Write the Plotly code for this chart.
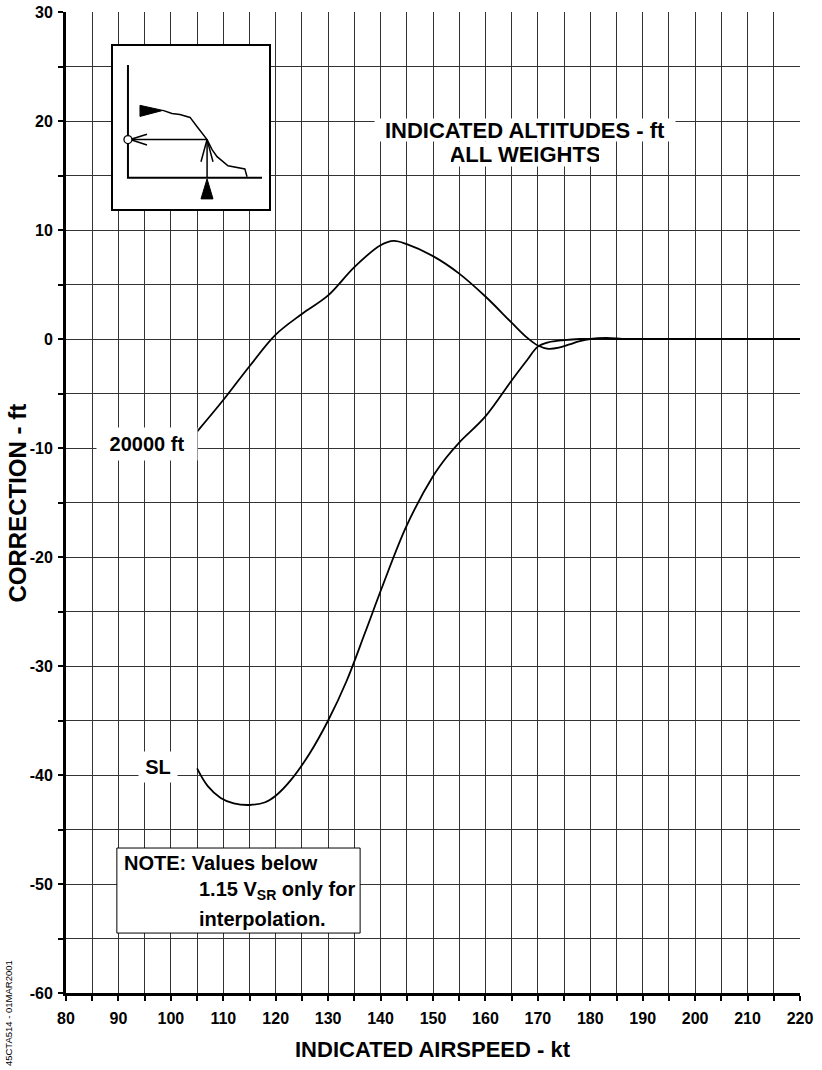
import plotly.graph_objects as go

# altitude position error correction curves
ias_20k = [105, 110, 115, 120, 125, 130, 135, 140, 142.5, 145, 150, 155, 160,
           165, 168, 170, 172, 174, 176, 178, 180, 183, 187, 195, 205, 220]
corr_20k = [-8.5, -5.6, -2.5, 0.4, 2.3, 4.0, 6.6, 8.6, 9.0, 8.7, 7.6, 6.0, 3.9,
            1.5, 0.1, -0.6, -0.9, -0.8, -0.5, -0.2, 0.0, 0.1, 0.0, 0.0, 0.0, 0.0]

ias_sl = [105, 107, 109.5, 112, 115, 118, 120, 123, 126.5, 130, 133.5, 137, 140.5, 145,
          150, 152.5, 155, 160, 165, 168, 170, 172, 175, 178, 185, 200, 220]
corr_sl = [-39.4, -41.0, -42.1, -42.6, -42.75, -42.5, -41.9, -40.4, -38.0, -35.0, -31.4, -27.0,
           -22.5, -17.1, -12.6, -10.9, -9.5, -7.1, -3.8, -1.9, -0.7, -0.3, -0.1, 0.0, 0.0,
           0.0, 0.0]

x_tickvals = [80, 90, 100, 110, 120, 130, 140, 150, 160, 170, 180, 190, 200, 210, 220]
x_ticktext = ['80', '90', '100', '110', '120', '130', '140', '150', '160', '170', '180',
              '190', '200', '210', '220']
y_tickvals = [-60, -50, -40, -30, -20, -10, 0, 10, 20, 30]
y_ticktext = ['-60', '-50', '-40', '-30', '-20', '-10', '0', '10', '20', '30']

# pictogram in the top-left box, in its own 0..100 units
icon_axes_x = [9.6, 9.6, 95.5]
icon_axes_y = [88.3, 19.1, 19.1]
icon_curve_x = [32, 37.8, 42.9, 49.4, 53.8, 60.3, 63.5, 66.7, 73.7, 82.7, 84.5, 85.9]
icon_curve_y = [60.5, 58.6, 58.0, 56.2, 50.6, 42.6, 36.4, 32.1, 26.5, 25.3, 24.6, 19.8]
icon_horiz_x = [11, 60.3]
icon_horiz_y = [42.6, 42.6]
icon_horiz_head_x = [21.8, 11, 21.8]
icon_horiz_head_y = [45.9, 42.6, 39.3]
icon_vert_x = [60.3, 60.3]
icon_vert_y = [19.1, 42.6]
icon_vert_head_x = [56.4, 60.3, 64.1]
icon_vert_head_y = [29, 42.6, 29]
icon_tri_left_x = [17.3, 17.3, 32, 17.3]
icon_tri_left_y = [63.6, 56.8, 60.5, 63.6]
icon_tri_up_x = [56.4, 64.1, 60.3, 56.4]
icon_tri_up_y = [6.2, 6.2, 18.5, 6.2]

FONT = "Liberation Sans, Arial, sans-serif"

fig = go.Figure()

fig.add_trace(go.Scatter(x=ias_20k, y=corr_20k, mode='lines', name='20000 ft',
                         line=dict(color='black', width=1.8, shape='spline', smoothing=1.0)))
fig.add_trace(go.Scatter(x=ias_sl, y=corr_sl, mode='lines', name='SL',
                         line=dict(color='black', width=1.8, shape='spline', smoothing=1.0)))

# inset pictogram
ic = dict(xaxis='x2', yaxis='y2', mode='lines', hoverinfo='skip')
fig.add_trace(go.Scatter(x=icon_axes_x, y=icon_axes_y, line=dict(color='black', width=2), **ic))
fig.add_trace(go.Scatter(x=icon_curve_x, y=icon_curve_y, line=dict(color='black', width=1.5), **ic))
fig.add_trace(go.Scatter(x=icon_horiz_x, y=icon_horiz_y, line=dict(color='black', width=1.5), **ic))
fig.add_trace(go.Scatter(x=icon_horiz_head_x, y=icon_horiz_head_y, line=dict(color='black', width=1.5), **ic))
fig.add_trace(go.Scatter(x=icon_vert_x, y=icon_vert_y, line=dict(color='black', width=1.5), **ic))
fig.add_trace(go.Scatter(x=icon_vert_head_x, y=icon_vert_head_y, line=dict(color='black', width=1.5), **ic))
fig.add_trace(go.Scatter(x=icon_tri_left_x, y=icon_tri_left_y, fill='toself', fillcolor='black',
                         line=dict(color='black', width=1), **ic))
fig.add_trace(go.Scatter(x=icon_tri_up_x, y=icon_tri_up_y, fill='toself', fillcolor='black',
                         line=dict(color='black', width=1), **ic))
fig.add_trace(go.Scatter(x=[icon_axes_x[0]], y=[icon_horiz_y[0]], xaxis='x2', yaxis='y2', mode='markers',
                         hoverinfo='skip',
                         marker=dict(symbol='circle', size=8, color='white', line=dict(color='black', width=1.3))))

lbl = dict(family=FONT, size=20, color='black', weight='bold')
big = dict(family=FONT, size=22, color='black', weight='bold')

# curve labels
fig.add_annotation(x=95.45, y=-9.6, text='20000 ft', showarrow=False, font=lbl,
                   bgcolor='white', width=92, height=24, borderpad=4)
fig.add_annotation(x=97.55, y=-39.3, text='SL', showarrow=False, font=lbl,
                   bgcolor='white', width=30, height=22, borderpad=4)
fig.add_annotation(x=167.5, y=19.2, text='INDICATED ALTITUDES - ft', showarrow=False, font=big,
                   bgcolor='white', width=300, height=22, borderpad=0)
fig.add_annotation(x=167.5, y=17.0, text='ALL WEIGHTS', showarrow=False, font=big,
                   bgcolor='white', width=148, height=22, borderpad=1)

# note box
fig.add_shape(type='rect', x0=89.7, x1=136.1, y0=-54.5, y1=-46.7, xref='x', yref='y',
              line=dict(color='black', width=1), fillcolor='white', layer='above')
note = dict(family=FONT, size=20, color='black', weight='bold')
fig.add_annotation(x=90.6, y=-48.1, text='NOTE: Values below', showarrow=False, xanchor='left', font=note)
fig.add_annotation(x=104.9, y=-50.6, text='1.15 V<sub>SR</sub> only for', showarrow=False,
                   xanchor='left', font=note)
fig.add_annotation(x=104.9, y=-53.2, text='interpolation.', showarrow=False, xanchor='left', font=note)

# axis titles
fig.add_annotation(x=0.5, y=-0.058, xref='paper', yref='paper', text='INDICATED AIRSPEED - kt',
                   xanchor='center', yanchor='middle', showarrow=False,
                   font=dict(family=FONT, size=22, color='black', weight='bold'))
fig.add_annotation(x=-0.0654, y=0.5, xref='paper', yref='paper', text='CORRECTION - ft',
                   xanchor='center', yanchor='middle', showarrow=False, textangle=-90,
                   font=dict(family=FONT, size=24, color='black', weight='bold'))

# document reference
fig.add_annotation(x=-0.079, y=-0.0205, xref='paper', yref='paper', text='45CTA514 - 01MAR2001',
                   xanchor='center', yanchor='middle', showarrow=False, textangle=-90,
                   font=dict(family=FONT, size=9.5, color='black'))

tickfont = dict(family=FONT, size=16, color='black', weight='bold')

fig.update_layout(
    width=822, height=1070,
    margin=dict(l=66, r=22, t=12, b=77),
    plot_bgcolor='white', paper_bgcolor='white',
    showlegend=False,
    xaxis=dict(range=[80, 220], tickmode='array', tickvals=x_tickvals, ticktext=x_ticktext,
               automargin=False, showgrid=True, gridcolor='#333', gridwidth=1, zeroline=False,
               showline=True, linecolor='black', linewidth=3,
               ticks='outside', ticklen=5, tickwidth=1.5, tickcolor='black',
               ticklabelstandoff=4, tickfont=tickfont,
               minor=dict(tick0=80, dtick=5, showgrid=True, gridcolor='#333', gridwidth=1,
                          ticks='outside', ticklen=5, tickwidth=1.5, tickcolor='black')),
    yaxis=dict(range=[-60, 30], tickmode='array', tickvals=y_tickvals, ticktext=y_ticktext,
               automargin=False, showgrid=True, gridcolor='#333', gridwidth=1, zeroline=False,
               showline=True, linecolor='black', linewidth=3,
               ticks='outside', ticklen=5, tickwidth=1.5, tickcolor='black',
               ticklabelstandoff=2, tickfont=tickfont,
               minor=dict(tick0=-60, dtick=5, showgrid=True, gridcolor='#333', gridwidth=1,
                          ticks='outside', ticklen=5, tickwidth=1.5, tickcolor='black')),
    xaxis2=dict(domain=[0.064, 0.2766], range=[0, 100], showgrid=False, zeroline=False,
                showticklabels=False, ticks='', showline=True, mirror=True, automargin=False,
                linecolor='black', linewidth=2, anchor='y2', fixedrange=True),
    yaxis2=dict(domain=[0.7992, 0.9653], range=[0, 100], showgrid=False, zeroline=False,
                showticklabels=False, ticks='', showline=True, mirror=True, automargin=False,
                linecolor='black', linewidth=2, anchor='x2', fixedrange=True),
)

fig.write_html("out.html", config={'displayModeBar': False},
               post_script="document.body.style.margin='0';")
